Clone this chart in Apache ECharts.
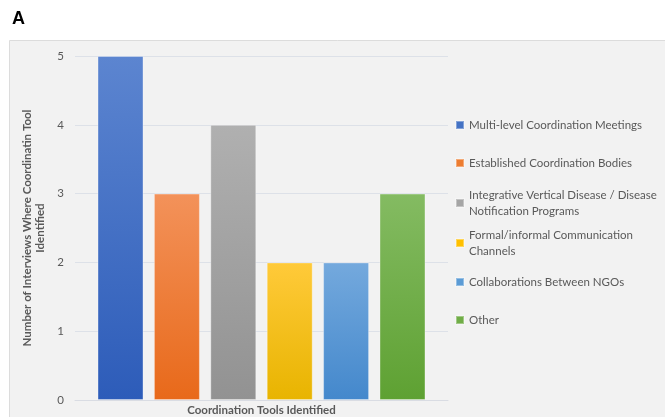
<!DOCTYPE html>
<html>
<head>
<meta charset="utf-8">
<script src="https://cdn.jsdelivr.net/npm/echarts@6/dist/echarts.min.js"></script>
<style>
html,body{margin:0;padding:0;background:#fff;}
#c{width:665px;height:417px;}
</style>
</head>
<body>
<div id="c"></div>
<script>
// Data
var categories = [''];
var seriesNames = [
  'Multi-level Coordination Meetings',
  'Established Coordination Bodies',
  'Integrative Vertical Disease / Disease Notification Programs',
  'Formal/informal Communication Channels',
  'Collaborations Between NGOs',
  'Other'
];
var legendLabels = [
  'Multi-level Coordination Meetings',
  'Established Coordination Bodies',
  'Integrative Vertical Disease / Disease\nNotification Programs',
  'Formal/informal Communication\nChannels',
  'Collaborations Between NGOs',
  'Other'
];
var values = [5, 3, 4, 2, 2, 3];
var yTicks = [0, 1, 2, 3, 4, 5];

// Styles
var topColors = ['#5c85d0', '#f3925a', '#b0b0b0', '#ffca3a', '#74a9dd', '#84bb62'];
var midColors = ['#4472c4', '#ed7d31', '#a5a5a5', '#ffc000', '#5b9bd5', '#70ad47'];
var botColors = ['#2d5cb9', '#e8691a', '#929292', '#e8b400', '#4488cc', '#5ea132'];
var legendCenters = [125, 163, 203, 243, 282, 320];
var FONT = 'Lato';
var TXT = '#595959';

var chart = echarts.init(document.getElementById('c'), null, {renderer: 'canvas'});

var series = seriesNames.map(function (n, i) {
  return {
    name: n,
    type: 'bar',
    data: [values[i]],
    barWidth: 46,
    barGap: '22.6%',
    itemStyle: {
      color: new echarts.graphic.LinearGradient(0, 0, 0, 1, [
        {offset: 0, color: topColors[i]},
        {offset: 1, color: botColors[i]}
      ]),
      borderColor: 'rgba(255,255,255,0.35)',
      borderWidth: 1
    },
    emphasis: {disabled: true}
  };
});

var legends = seriesNames.map(function (n, i) {
  var twoLine = legendLabels[i].indexOf('\n') >= 0;
  return {
    data: [{name: n, itemStyle: {color: midColors[i]}, icon: 'rect'}],
    orient: 'vertical',
    left: 455,
    top: twoLine ? legendCenters[i] - 24 : legendCenters[i] - 8,
    padding: 0,
    itemWidth: 8,
    itemHeight: 8,
    itemGap: 0,
    selectedMode: false,
    formatter: function () { return legendLabels[i]; },
    textStyle: {
      fontFamily: FONT,
      fontSize: 11.5,
      color: TXT,
      lineHeight: 16,
      padding: twoLine ? [16, 0, 0, 0] : 0
    }
  };
});

chart.setOption({
  backgroundColor: '#ffffff',
  animation: false,
  graphic: [
    {
      type: 'rect',
      z: -10,
      shape: {x: 9.5, y: 40.5, width: 670, height: 400},
      style: {fill: '#f2f2f2', stroke: '#dcdcdc', lineWidth: 1}
    },
    {
      type: 'text',
      left: 12,
      top: 10,
      style: {text: 'A', font: 'bold 18px "Liberation Sans"', fill: '#000'}
    }
  ],
  grid: {left: 75, right: 217, top: 56, bottom: 17, containLabel: false, outerBoundsMode: 'none'},
  legend: legends,
  xAxis: {
    type: 'category',
    data: categories,
    name: 'Coordination Tools Identified',
    nameLocation: 'middle',
    nameGap: 4,
    nameTextStyle: {fontFamily: FONT, fontSize: 11.5, fontWeight: 'bold', color: TXT},
    axisLine: {lineStyle: {color: '#d9dce3', width: 1}},
    axisTick: {show: false},
    axisLabel: {show: false}
  },
  yAxis: {
    type: 'value',
    min: yTicks[0],
    max: yTicks[yTicks.length - 1],
    interval: 1,
    name: 'Number of Interviews Where Coordinatin Tool\nIdentified',
    nameLocation: 'middle',
    nameGap: 26,
    nameTextStyle: {fontFamily: FONT, fontSize: 11.5, fontWeight: 'bold', color: TXT, lineHeight: 13, align: 'center'},
    axisLine: {show: false},
    axisTick: {show: false},
    axisLabel: {fontFamily: FONT, fontSize: 11.5, color: TXT, margin: 11},
    splitLine: {lineStyle: {color: '#dde1e8', width: 1}}
  },
  series: series
});
</script>
</body>
</html>
